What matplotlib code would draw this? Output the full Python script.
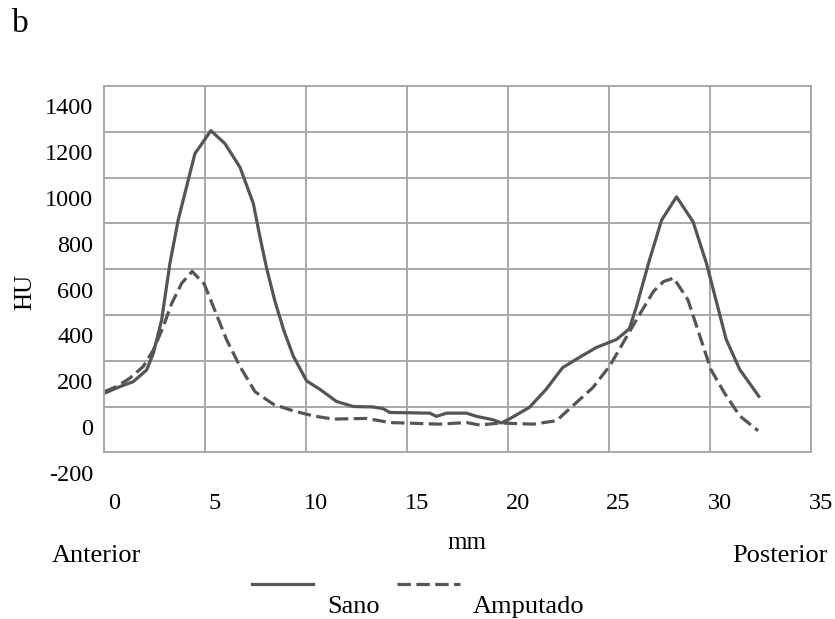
import numpy as np
import matplotlib
matplotlib.use("Agg")
import matplotlib.pyplot as plt
from matplotlib.lines import Line2D
from matplotlib.transforms import ScaledTranslation

# Density profile (HU) along the line, anterior -> posterior
sano_mm = [0, 0.78, 1.44, 2.1, 2.43, 2.84, 3.25, 3.66, 4.24, 4.49, 5.28, 5.97,
           6.72, 7.38, 7.71, 8.05, 8.45, 8.9, 9.36, 10.02, 10.68, 11.5, 12.33,
           13.3, 13.8, 14.14, 16.12, 16.45, 16.95, 17.94, 18.44, 19.26, 19.67,
           20.05, 21.05, 21.88, 22.7, 23.5, 24.35, 25.37, 26.0, 26.36, 27.0,
           27.6, 28.34, 29.16, 29.82, 30.8, 31.47, 32.46]
sano_hu = [58, 87, 109, 160, 233, 378, 625, 815, 1018, 1105, 1205, 1149,
           1045, 887, 740, 600, 460, 330, 220, 112, 75, 22, 0,
           -2, -9, -26, -29, -43, -29, -29, -43, -58, -72,
           -55, -4, 75, 170, 213, 257, 293, 339, 438, 640,
           814, 916, 807, 626, 293, 162, 39]

amp_mm = [0, 0.61, 1.27, 1.93, 2.43, 2.92, 3.34, 3.83, 4.35, 4.95, 5.4, 6.06,
          6.72, 7.46, 8.37, 9.36, 10.35, 11.34, 12.99, 14.14, 16.6, 17.94,
          18.6, 19.6, 21.24, 22.4, 23.2, 24.2, 25.03, 25.7, 26.36, 27.2, 27.7,
          28.2, 28.9, 29.55, 30.04, 30.7, 31.47, 32.38]
amp_hu = [65, 87, 124, 175, 247, 349, 451, 538, 590, 535, 436, 291,
          175, 65, 10, -19, -41, -55, -52, -70, -77, -70,
          -81, -72, -77, -62, 3, 83, 177, 279, 380, 503, 546,
          561, 467, 293, 162, 61, -41, -106]

x_ticks = [0, 5, 10, 15, 20, 25, 30, 35]
y_ticks = [-200, 0, 200, 400, 600, 800, 1000, 1200, 1400]

W, H = 835, 619
plt.rcParams['font.family'] = ['Liberation Serif', 'DejaVu Serif']

fig = plt.figure(figsize=(W / 100, H / 100), dpi=100)
ax = fig.add_axes([104.3 / W, 1 - 452.3 / H, (811 - 104.3) / W, (452.3 - 86) / H])

line_col = '#555555'
dash = (0, (4.2, 1.7))
ax.plot(sano_mm, sano_hu, color=line_col, lw=2.3, solid_capstyle='butt')
ax.plot(amp_mm, amp_hu, color=line_col, lw=2.3, linestyle=dash)

ax.set_xlim(0, 35)
ax.set_ylim(-200, 1400)
ax.set_xticks(x_ticks)
ax.set_yticks(y_ticks)
ax.set_xticklabels([str(t) for t in x_ticks])
ax.set_yticklabels([str(t) for t in y_ticks])
ax.grid(True, color='#a8a8a8', lw=1.4)
ax.set_axisbelow(True)
for sp in ax.spines.values():
    sp.set_color('#a8a8a8')
    sp.set_linewidth(1.4)
ax.tick_params(length=0, labelsize=17.5, colors='black')
ax.tick_params(axis='y', pad=8)
ax.tick_params(axis='x', pad=29)

# the labels in the original sit a bit off their grid lines
for lab in ax.get_yticklabels():
    lab.set_transform(lab.get_transform() + ScaledTranslation(0, -20.5 / 100, fig.dpi_scale_trans))
for lab in ax.get_xticklabels():
    lab.set_transform(lab.get_transform() + ScaledTranslation(9.5 / 100, 0, fig.dpi_scale_trans))

def fx(px):
    return px / W

def fy(py):
    return 1 - py / H

fig.text(fx(12), fy(32), 'b', fontsize=24, ha='left', va='baseline')
fig.text(fx(25), fy(292), 'HU', fontsize=18, rotation=90, ha='center', va='center')
fig.text(fx(467), fy(543), 'mm', fontsize=18, ha='center', va='center')
fig.text(fx(52), fy(562), 'Anterior', fontsize=19, ha='left', va='baseline')
fig.text(fx(828), fy(562), 'Posterior', fontsize=19, ha='right', va='baseline')

# legend drawn by hand: lines above and left of the labels
fig.add_artist(Line2D([fx(252), fx(313)], [fy(584), fy(584)], color=line_col, lw=2.3,
                      transform=fig.transFigure))
fig.add_artist(Line2D([fx(397), fx(460)], [fy(584), fy(584)], color=line_col, lw=2.3,
                      linestyle=dash, transform=fig.transFigure))
fig.text(fx(327), fy(613), 'Sano', fontsize=19, ha='left', va='baseline')
fig.text(fx(473), fy(613), 'Amputado', fontsize=19, ha='left', va='baseline')

fig.savefig('out.png', dpi=100)
